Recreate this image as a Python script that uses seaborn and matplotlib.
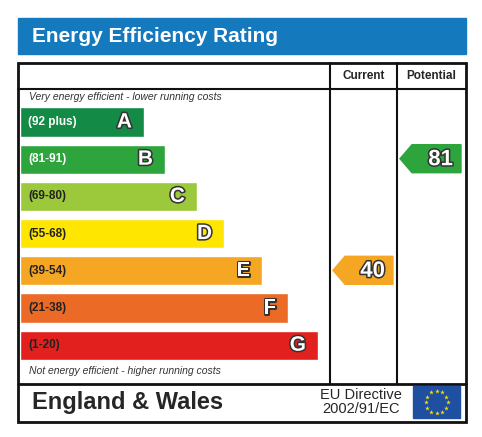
import matplotlib
matplotlib.use("Agg")
import matplotlib.pyplot as plt
import matplotlib.patheffects as pe
from matplotlib.patches import Rectangle, Polygon
import numpy as np
import pandas as pd
import seaborn as sns

bands = ["A", "B", "C", "D", "E", "F", "G"]
ranges = ["(92 plus)", "(81-91)", "(69-80)", "(55-68)", "(39-54)", "(21-38)", "(1-20)"]
band_colors = ["#138a45", "#2ea53c", "#9cc83c", "#ffe600", "#f5a623", "#eb6b26", "#e2211f"]
range_text_colors = ["white", "white", "#222222", "#222222", "#222222", "#222222", "#222222"]
bar_lengths = [124, 145, 177, 204, 242, 268, 298]   # relative bar lengths (px)
current_rating = 40
potential_rating = 81
current_band = "E"
potential_band = "B"

sns.set_style("white")
plt.rcParams['font.family'] = ['Liberation Sans', 'DejaVu Sans']

W, H = 482, 437
fig = plt.figure(figsize=(W/100, H/100), dpi=100)
ov = fig.add_axes([0, 0, 1, 1])
ov.set_xlim(0, W); ov.set_ylim(H, 0); ov.axis("off")

# header
ov.add_patch(Rectangle((18, 18), 448, 36, color="#1579bd"))
ov.text(32, 36, "Energy Efficiency Rating", color="white", fontsize=15, fontweight="bold", va="center")

# frame
ov.add_patch(Rectangle((18, 63), 448, 359, fill=False, lw=2, ec="#111111"))
for x in (330, 397):
    ov.plot([x, x], [63, 384], color="#111111", lw=1.5)
ov.plot([18, 466], [89, 89], color="#111111", lw=1.5)
ov.plot([18, 466], [384, 384], color="#111111", lw=2)
ov.text(363.5, 76, "Current", fontsize=8.5, fontweight="bold", ha="center", va="center")
ov.text(431.5, 76, "Potential", fontsize=8.5, fontweight="bold", ha="center", va="center")
ov.text(29, 97, "Very energy efficient - lower running costs", fontsize=7.5, style="italic", color="#333333", va="center")
ov.text(29, 371, "Not energy efficient - higher running costs", fontsize=7.5, style="italic", color="#333333", va="center")
ov.text(32, 403, "England & Wales", fontsize=17, fontweight="bold", va="center")
ov.text(361, 402, "EU Directive\n2002/91/EC", fontsize=10.5, ha="center", va="center", linespacing=0.95)
ov.add_patch(Rectangle((413, 386), 47, 32, color="#1f4fa0"))
for a in np.linspace(0, 2*np.pi, 13)[:-1]:
    ov.plot(436.5 + 11*np.cos(a), 402 + 11*np.sin(a), marker="*", ms=3.5, color="#ffdd00", mec="none")

# bars
top, step = 107, 37.2
bx = fig.add_axes([20/W, 1 - (top - 3.6 + 7*step)/H, 310/W, 7*step/H])
df = pd.DataFrame({"band": bands, "len": bar_lengths})
sns.barplot(data=df, x="len", y="band", hue="band", palette=band_colors, legend=False,
            width=0.79, ax=bx, saturation=1)
bx.set_xlim(0, 310); bx.axis("off")
outline = [pe.withStroke(linewidth=2.2, foreground="#333333")]
for i, (b, r, tc, L) in enumerate(zip(bands, ranges, range_text_colors, bar_lengths)):
    bx.text(8, i, r, color=tc, fontsize=8.5, fontweight="bold", va="center")
    bx.text(L - 12, i, b, color="white", fontsize=15, fontweight="bold", ha="right", va="center",
            path_effects=outline)

def arrow(x0, x1, band, val, color):
    yc = top + 14.5 + step*bands.index(band)
    h = 14
    ov.add_patch(Polygon([(x0, yc), (x0+12, yc-h), (x1, yc-h), (x1, yc+h), (x0+12, yc+h)],
                         closed=True, color=color))
    ov.text(x1 - 8, yc + 1, str(val), color="white", fontsize=16, fontweight="bold", ha="right", va="center",
            path_effects=outline)

arrow(333, 393, current_band, current_rating, band_colors[bands.index(current_band)])
arrow(400, 461, potential_band, potential_rating, band_colors[bands.index(potential_band)])

fig.savefig("out.png", dpi=100)
